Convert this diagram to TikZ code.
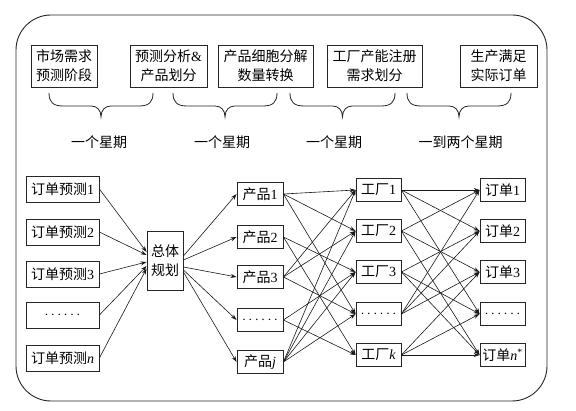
\documentclass[tikz,border=0pt]{standalone}
\usepackage{fontspec}
\setmainfont{Liberation Serif}
\newfontfamily\cjk{Noto Sans CJK SC}
\usetikzlibrary{arrows.meta}
\newcommand\rmt[1]{{\rmfamily #1}}
\newcommand\itv[1]{{\rmfamily\itshape #1}}
\begin{document}
\begin{tikzpicture}[x=1pt,y=-1pt,
  box/.style={draw=black!85, line width=0.8pt, inner sep=0pt, align=center,
    font=\cjk\fontsize{14}{19}\selectfont},
  topbox/.style={box, minimum height=42pt},
  predbox/.style={box, minimum width=73pt, minimum height=26pt},
  prodbox/.style={box, minimum width=46pt, minimum height=23pt},
  facbox/.style={box, minimum width=45pt, minimum height=23pt},
  ordbox/.style={box, minimum width=45pt, minimum height=23pt},
  lbl/.style={inner sep=0pt, font=\cjk\fontsize{14}{17}\selectfont},
  arr/.style={-{Stealth[length=6pt,width=4pt]}, line width=0.6pt, black!90},
  bracepath/.style={line width=0.8pt, black!85},
]
\useasboundingbox (0,0) rectangle (576,411);
\draw[line width=0.9pt, black!85, rounded corners=35pt] (16,15) rectangle (547,401);

% top stage boxes
\node[topbox, minimum width=66pt] (t1) at (64,66) {市场需求\\预测阶段};
\node[topbox, minimum width=77pt] (t2) at (168.5,66) {预测分析\rmt{\&}\\产品划分};
\node[topbox, minimum width=95pt] (t3) at (265.5,66) {产品细胞分解\\数量转换};
\node[topbox, minimum width=95pt] (t4) at (374.5,66) {工厂产能注册\\需求划分};
\node[topbox, minimum width=77pt] (t5) at (498.5,66) {生产满足\\实际订单};

% braces
\foreach \xa/\xb in {49/153,173/277,290/395,407/511} {
  \pgfmathsetmacro\xm{(\xa+\xb)/2}
  \draw[bracepath] (\xa,93) .. controls (\xa,102) and (\xa+4,106) .. (\xa+14,106)
    -- (\xm-10,106) .. controls (\xm-4,106) and (\xm,110) .. (\xm,117)
    .. controls (\xm,110) and (\xm+4,106) .. (\xm+10,106)
    -- (\xb-14,106) .. controls (\xb-4,106) and (\xb,102) .. (\xb,93);
}
\node[lbl] (l1) at (99,142) {一个星期};
\node[lbl] (l2) at (222,142) {一个星期};
\node[lbl] (l3) at (334,142) {一个星期};
\node[lbl] (l4) at (460.5,142) {一到两个星期};

% order predictions
\node[predbox] (p1) at (62.5,189) {订单预测\rmt{1}};
\node[predbox] (p2) at (62.5,232) {订单预测\rmt{2}};
\node[predbox] (p3) at (62.5,274) {订单预测\rmt{3}};
\node[predbox] (p4) at (62.5,315) {$\cdots\cdots$};
\node[predbox] (p5) at (62.5,358) {订单预测\itv{n}};

% overall plan
\node[box, minimum width=36pt, minimum height=59pt] (plan) at (165,260.5) {总体\\规划};

% products
\node[prodbox] (q1) at (260,194) {产品\rmt{1}};
\node[prodbox] (q2) at (260,237) {产品\rmt{2}};
\node[prodbox] (q3) at (260,277) {产品\rmt{3}};
\node[prodbox] (q4) at (260,320) {$\cdots\cdots$};
\node[prodbox] (q5) at (260,362) {产品\itv{j}};

% factories
\node[facbox] (f1) at (378.5,190) {工厂\rmt{1}};
\node[facbox] (f2) at (378.5,231) {工厂\rmt{2}};
\node[facbox] (f3) at (378.5,272) {工厂\rmt{3}};
\node[facbox] (f4) at (378.5,314) {$\cdots\cdots$};
\node[facbox] (f5) at (378.5,355) {工厂\itv{k}};

% orders
\node[ordbox] (o1) at (502.5,190) {订单\rmt{1}};
\node[ordbox] (o2) at (502.5,231) {订单\rmt{2}};
\node[ordbox] (o3) at (502.5,272) {订单\rmt{3}};
\node[ordbox] (o4) at (502.5,314) {$\cdots\cdots$};
\node[ordbox] (o5) at (502.5,355) {订单\itv{n}\rmt{\textsuperscript{*}}};

% predictions -> plan
\draw[arr] (p1.east) -- ([yshift=8.5pt]plan.west);
\draw[arr] (p2.east) -- ([yshift=5.5pt]plan.west);
\draw[arr] (p3.east) -- ([yshift=-1.5pt]plan.west);
\draw[arr] (p4.east) -- ([yshift=-5.5pt]plan.west);
\draw[arr] (p5.east) -- ([yshift=-8pt]plan.west);

% plan -> products
\draw[arr] ([yshift=4.5pt]plan.east) -- (q1.west);
\draw[arr] ([yshift=0.5pt]plan.east) -- (q2.west);
\draw[arr] ([yshift=-6.5pt]plan.east) -- (q3.west);
\draw[arr] ([yshift=-9.5pt]plan.east) -- (q4.west);
\draw[arr] ([yshift=-11.5pt]plan.east) -- (q5.west);

% products -> factories
\foreach \a/\b in {1/1,1/2,1/4,2/3,2/5,3/1,3/2,3/4,4/3,4/5,5/1,5/2,5/3,5/4}
  \draw[arr] (q\a.east) -- (f\b.west);

% factories -> orders
\foreach \a/\b in {1/1,1/2,1/4,2/1,2/3,2/5,3/2,3/4,3/5,4/1,4/2,4/3,5/3,5/4,5/5}
  \draw[arr] (f\a.east) -- (o\b.west);
\end{tikzpicture}
\end{document}
